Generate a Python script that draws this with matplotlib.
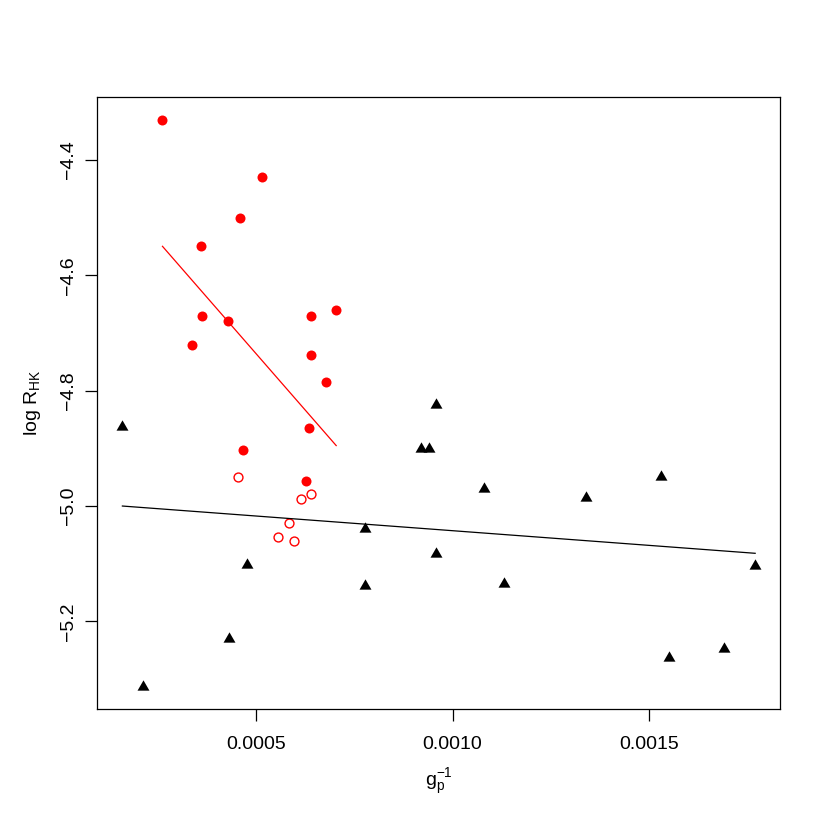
import numpy as np
import matplotlib.pyplot as plt

plt.rcParams['font.family'] = ['Liberation Sans', 'DejaVu Sans']
plt.rcParams['mathtext.fontset'] = 'custom'
plt.rcParams['mathtext.rm'] = 'Liberation Sans'
plt.rcParams['mathtext.it'] = 'Liberation Sans:italic'

# red filled circles
act_x = [0.000262, 0.000515, 0.000459, 0.000360, 0.000362, 0.000428, 0.000337,
         0.000641, 0.000704, 0.000639, 0.000677, 0.000634, 0.000466, 0.000627]
act_y = [-4.331, -4.430, -4.501, -4.549, -4.670, -4.680, -4.720,
         -4.670, -4.660, -4.738, -4.785, -4.865, -4.903, -4.957]

# red open circles
open_x = [0.000455, 0.000615, 0.000639, 0.000583, 0.000555, 0.000597]
open_y = [-4.949, -4.987, -4.979, -5.029, -5.053, -5.061]

# black triangles
tri_x = [0.000160, 0.000213, 0.000431, 0.000478, 0.000777, 0.000777, 0.000958,
         0.000919, 0.000941, 0.001080, 0.001340, 0.001530, 0.000957, 0.001130,
         0.001770, 0.001550, 0.001690]
tri_y = [-4.860, -5.310, -5.228, -5.098, -5.037, -5.135, -4.821,
         -4.897, -4.897, -4.967, -4.982, -4.947, -5.079, -5.132,
         -5.101, -5.260, -5.245]

# fitted lines: intercept, slope
red_fit = (-4.3449, -781.7)
black_fit = (-4.9919, -50.9)

fig = plt.figure(figsize=(8.3, 8.3), dpi=100)
ax = fig.add_axes([97 / 830, 1 - 709.3 / 830, (780.3 - 97) / 830, (709.3 - 97) / 830])

tri = [(-1, -0.866), (1, -0.866), (0, 0.866)]
ax.plot(tri_x, tri_y, ls='none', marker=tri, ms=8.6, color='black', mew=0)
ax.plot(act_x, act_y, ls='none', marker='o', ms=7.2, color='red', mew=0)
ax.plot(open_x, open_y, ls='none', marker='o', ms=6.4, mfc='none', mec='red', mew=1.0)

xr = np.array([min(act_x), max(act_x)])
ax.plot(xr, red_fit[0] + red_fit[1] * xr, color='red', lw=0.9)
xb = np.array([min(tri_x), max(tri_x)])
ax.plot(xb, black_fit[0] + black_fit[1] * xb, color='black', lw=0.9)

ax.set_xlim(0.0000954, 0.001834)
ax.set_ylim(-5.3525, -4.2908)
ax.set_xticks([0.0005, 0.0010, 0.0015])
ax.set_xticklabels(['0.0005', '0.0010', '0.0015'])
ax.set_yticks([-5.2, -5.0, -4.8, -4.6, -4.4])
ax.set_yticklabels(['\u22125.2', '\u22125.0', '\u22124.8', '\u22124.6', '\u22124.4'])
ax.tick_params(axis='both', length=8.5, width=0.9, labelsize=14, direction='out')
ax.tick_params(axis='x', pad=11)
ax.tick_params(axis='y', pad=6, labelrotation=90)
for lab in ax.get_yticklabels():
    lab.set_va('center')
for s in ax.spines.values():
    s.set_linewidth(0.9)

ax.set_xlabel(r'$\mathrm{g}_\mathrm{p}^{-1}$', fontsize=14, labelpad=10)
ax.set_ylabel(r'log R$_\mathrm{HK}$', fontsize=14, labelpad=12)

fig.savefig('out.png', dpi=100)
